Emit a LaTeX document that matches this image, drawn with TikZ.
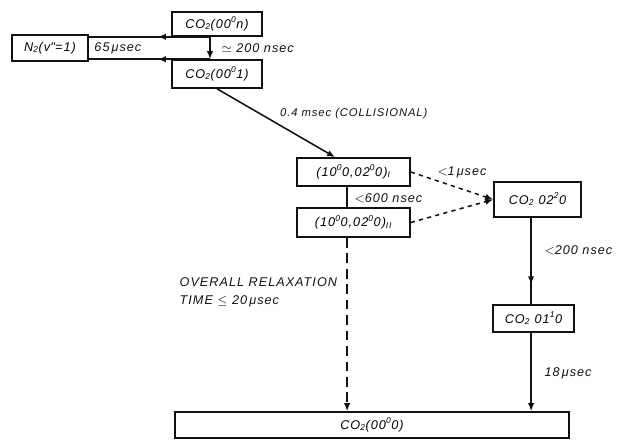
\documentclass[tikz,border=0pt]{standalone}
\usepackage{fontspec}
\setsansfont{Liberation Sans}[LetterSpace=8]
\usetikzlibrary{arrows.meta,positioning,calc,decorations.markings}
\definecolor{Ink}{HTML}{111111}

\begin{document}
\begin{tikzpicture}[x=0.025cm, y=-0.025cm,
    font=\sffamily\itshape\small,
    lvl/.style={draw=Ink, line width=1.1pt, inner sep=1pt, minimum height=0.65cm},
    lbl/.style={text=Ink, inner sep=1pt},
    arr/.style={-{Latex[length=2mm, width=1.6mm]}, line width=1.1pt, draw=Ink},
    link/.style={line width=1.1pt, draw=Ink},
    midarr/.style={line width=1.1pt, draw=Ink, postaction={decorate},
      decoration={markings, mark=at position #1 with {\arrow[Ink]{Latex[length=2mm, width=1.6mm]}}}}
  ]
    \useasboundingbox (0,0) rectangle (632,441);
    % levels
    \node[lvl, minimum width=2.25cm, minimum height=0.6cm] (co2n) at (217,24) {CO\textsubscript{2}(00\textsuperscript{0}n)};
    \node[lvl, minimum width=1.9cm] (n2) at (50,48) {N\textsubscript{2}(v\textquotesingle\textquotesingle=1)};
    \node[lvl, minimum width=2.25cm, minimum height=0.7cm] (co2a) at (217,74) {CO\textsubscript{2}(00\textsuperscript{0}1)};
    \node[lvl, minimum width=2.825cm, minimum height=0.7cm] (bI) at (353.5,172) {(10\textsuperscript{0}0,02\textsuperscript{0}0)\textsubscript{I}};
    \node[lvl, minimum width=2.825cm, minimum height=0.725cm] (bII) at (353.5,222.5) {(10\textsuperscript{0}0,02\textsuperscript{0}0)\textsubscript{II}};
    \node[lvl, minimum width=2.175cm, minimum height=0.875cm] (co2b) at (537.5,199.5) {CO\textsubscript{2} 02\textsuperscript{2}0};
    \node[lvl, minimum width=2.025cm, minimum height=0.675cm] (co2c) at (533.5,318.5) {CO\textsubscript{2} 01\textsuperscript{1}0};
    \node[lvl, minimum width=9.85cm] (gnd) at (372,425) {CO\textsubscript{2}(00\textsuperscript{0}0)};
    % N2 exchange
    \coordinate (ta) at ([xshift=-0.175cm]co2n.south);
    \coordinate (tb) at ([xshift=-0.175cm]co2a.north);
    \draw[arr] (ta) -- (tb);
    \draw[midarr=0.43] (ta) -- (n2.east |- ta);
    \draw[midarr=0.43] (tb) -- (n2.east |- tb);
    \node[lbl, anchor=west] (t65) at ([xshift=0.1cm]n2.east) {65\,μsec};
    \node[lbl, anchor=west] (t200) at (220,48) {$\simeq$ 200 nsec};
    % collisional step
    \draw[arr] (co2a.south) -- ([xshift=-0.46cm]bI.north)
      node[lbl, pos=0.5, anchor=south west, xshift=0.05cm, yshift=0.05cm, font=\sffamily\itshape\footnotesize] (tcol) {0.4 msec (COLLISIONAL)};
    \draw[link] ([xshift=-0.16cm]bI.south) -- ([xshift=-0.16cm]bII.north);
    \node[lbl, anchor=west] (t600) at (353,198) {$<$600 nsec};
    \draw[arr, dashed] (bI.east) -- (co2b.west);
    \draw[arr, dashed] (bII.east) -- (co2b.west);
    \node[lbl] (t1) at (462,172) {$<$1\,μsec};
    % cascade to ground
    \coordinate (tc) at ([xshift=-0.16cm]co2b.south);
    \draw[midarr=0.77] (tc) -- (tc |- co2c.north);
    \node[lbl, anchor=west] (t200b) at (543,250) {$<$200 nsec};
    \draw[arr] (tc |- co2c.south) -- (tc |- gnd.north);
    \node[lbl, anchor=west] (t18) at (543,373) {18\,μsec};
    \draw[arr, dashed, dash pattern=on 7pt off 4pt] ([xshift=-0.16cm]bII.south) -- ([xshift=-0.16cm]bII.south |- gnd.north);
    \node[lbl, anchor=west, align=left] (tall) at (178,292) {OVERALL RELAXATION\\[2pt]TIME $\leq$ 20\,μsec};
  \end{tikzpicture}
\end{document}
